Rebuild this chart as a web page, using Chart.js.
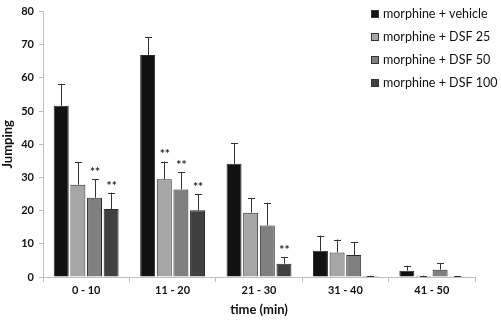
<!DOCTYPE html>
<html><head><meta charset="utf-8">
<script src="https://cdn.jsdelivr.net/npm/chart.js@4.4.1/dist/chart.umd.min.js"></script>
<style>html,body{margin:0;padding:0;background:#fff;}#wrap{width:501px;height:322px;}</style>
</head><body><div id="wrap"><canvas id="c" width="501" height="322"></canvas></div>
<script>
const categories = ['0 - 10','11 - 20','21 - 30','31 - 40','41 - 50'];
const seriesLabels = ['morphine + vehicle','morphine + DSF 25','morphine + DSF 50','morphine + DSF 100'];
const vehicle = [51.6, 66.9, 34.1, 7.9, 1.9];
const dsf25   = [27.8, 29.5, 19.4, 7.4, 0.3];
const dsf50   = [23.9, 26.4, 15.5, 6.6, 2.2];
const dsf100  = [20.5, 20.1, 4.0, 0.3, 0.2];
const errVehicle = [6.6, 5.3, 6.3, 4.6, 1.5];
const err25   = [6.8, 5.3, 4.4, 3.9, 0.1];
const err50   = [5.6, 5.2, 6.9, 3.8, 1.9];
const err100  = [4.9, 4.9, 1.9, 0.1, 0.05];
const stars25  = [false, true, false, false, false];
const stars50  = [true, true, false, false, false];
const stars100 = [true, true, true, false, false];
const yTicks = [0,10,20,30,40,50,60,70,80];

const colors = ['#111111','#a6a6a6','#808080','#404040'];
const values = [vehicle, dsf25, dsf50, dsf100];
const errs = [errVehicle, err25, err50, err100];
const stars = [null, stars25, stars50, stars100];
const FONT = 'Lato, "Open Sans", sans-serif';

const extras = {
  id: 'extras',
  afterDatasetsDraw(chart) {
    const ctx = chart.ctx, y = chart.scales.y;
    ctx.save();
    chart.data.datasets.forEach((ds, di) => {
      const meta = chart.getDatasetMeta(di);
      meta.data.forEach((bar, i) => {
        const top = y.getPixelForValue(values[di][i] + errs[di][i]);
        const x = Math.round(bar.x) + 0.5;
        ctx.strokeStyle = '#333';
        ctx.lineWidth = 1;
        ctx.beginPath();
        ctx.moveTo(x, bar.y); ctx.lineTo(x, top);
        ctx.moveTo(x - 3.5, Math.round(top) + 0.5); ctx.lineTo(x + 3.5, Math.round(top) + 0.5);
        ctx.stroke();
        if (stars[di] && stars[di][i]) {
          ctx.fillStyle = '#222';
          ctx.font = 'bold 12px ' + FONT;
          ctx.textAlign = 'center';
          ctx.textBaseline = 'middle';
          ctx.fillText('**', bar.x + 0.5, top - 7);
        }
      });
    });
    // legend
    ctx.font = '12.5px ' + FONT;
    ctx.textAlign = 'left';
    ctx.textBaseline = 'middle';
    seriesLabels.forEach((lab, k) => {
      const cy = 13.5 + k * 23.3;
      ctx.fillStyle = colors[k];
      ctx.fillRect(372, Math.round(cy) - 3, 7, 7);
      ctx.strokeStyle = '#333';
      ctx.strokeRect(371.5, Math.round(cy) - 3.5, 7, 7);
      ctx.fillStyle = '#111';
      ctx.fillText(lab, 383, cy);
    });
    ctx.restore();
  }
};

new Chart(document.getElementById('c'), {
  type: 'bar',
  data: {
    labels: categories,
    datasets: values.map((v, k) => ({
      label: seriesLabels[k], data: v, backgroundColor: colors[k],
      borderColor: '#2a2a2a', borderWidth: 1,
      categoryPercentage: 0.77, barPercentage: 0.9
    }))
  },
  options: {
    responsive: false, animation: false,
    layout: { padding: { left: 0, right: 26, top: 10, bottom: 0 } },
    plugins: { legend: { display: false }, tooltip: { enabled: false } },
    scales: {
      x: {
        grid: { drawOnChartArea: false, offset: true, tickLength: 5, color: '#bfbfbf' },
        border: { color: '#bfbfbf' },
        ticks: { color: '#111', font: { family: FONT, size: 11, weight: 'bold' }, padding: 2 },
        title: { display: true, text: 'time (min)', color: '#111', font: { family: FONT, size: 13, weight: 'bold' }, padding: { top: 2 } },
        afterFit(s) { s.height = 45; }
      },
      y: {
        min: 0, max: 80,
        afterBuildTicks(s) { s.ticks = yTicks.map(v => ({ value: v })); },
        grid: { drawOnChartArea: false, tickLength: 4, color: '#bfbfbf' },
        border: { color: '#bfbfbf' },
        ticks: { color: '#111', font: { family: FONT, size: 11, weight: 'bold' }, padding: 5 },
        title: { display: true, text: 'Jumping', color: '#111', font: { family: FONT, size: 13, weight: 'bold' }, padding: 0 },
        afterFit(s) { s.width = 43; }
      }
    }
  },
  plugins: [extras]
});
</script></body></html>
